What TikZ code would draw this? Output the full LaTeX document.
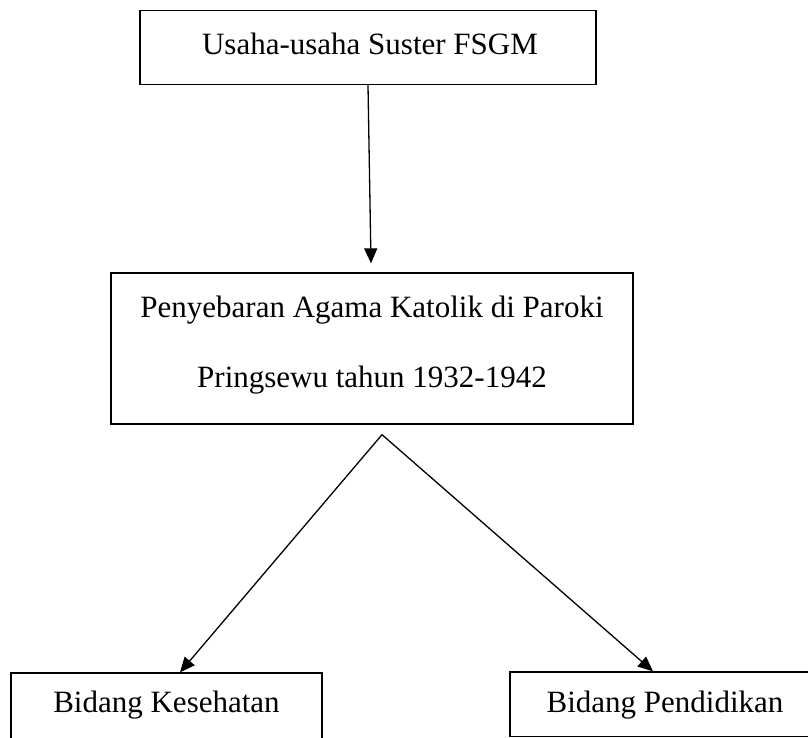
\documentclass[tikz,border=0pt]{standalone}
\usepackage{fontspec}
\setmainfont{Liberation Serif}
\usetikzlibrary{arrows.meta}
\begin{document}
\begin{tikzpicture}[x=1pt,y=-1pt,
  box/.style={draw=black,line width=1.3pt,inner sep=0pt,fill=none},
  txt/.style={font=\fontsize{31}{37}\selectfont,inner sep=0pt,anchor=base},
  arr/.style={line width=1.3pt,-{Triangle[length=15pt,width=13pt]}}]
\useasboundingbox[fill=white] (0,0) rectangle (808,737);
\node[box,minimum width=456pt,minimum height=74pt] (top) at (368,47.5) {};
\node[txt] (toptext) at (370,54) {Usaha-usaha Suster FSGM};
\node[box,minimum width=522pt,minimum height=151pt] (mid) at (372,348.5) {};
\node[txt] (midtext1) at (372,317) {Penyebaran Agama Katolik di Paroki};
\node[txt] (midtext2) at (372,387) {Pringsewu tahun 1932-1942};
\node[box,minimum width=311pt,minimum height=90pt] (left) at (166.5,718) {};
\node[txt] (lefttext) at (166.5,712) {Bidang Kesehatan};
\node[box,minimum width=310pt,minimum height=64.5pt] (right) at (665,704.25) {};
\node[txt] (righttext) at (665,712) {Bidang Pendidikan};
\draw[arr] (top.south) -- ([xshift=-1pt,yshift=9pt]mid.north);
\draw[arr] ([xshift=10pt,yshift=-10pt]mid.south) -- ([xshift=13.5pt]left.north);
\draw[arr] ([xshift=10pt,yshift=-10pt]mid.south) -- ([xshift=-12pt]right.north);
\end{tikzpicture}
\end{document}
